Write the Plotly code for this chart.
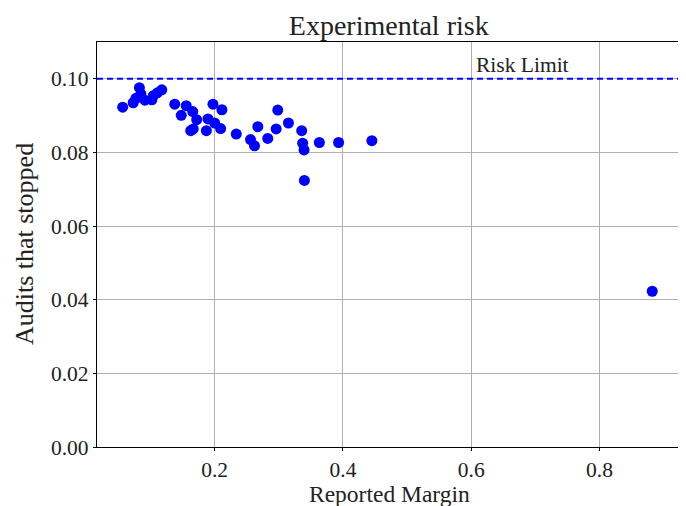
import plotly.graph_objects as go

margins = [0.0566, 0.0730, 0.0772, 0.0827, 0.0850, 0.0912, 0.1021, 0.1044, 0.1106, 0.1176,
           0.1378, 0.1557, 0.1479, 0.1658, 0.1720, 0.1627, 0.1666, 0.1974, 0.2113, 0.1896,
           0.2000, 0.1871, 0.2093, 0.2337, 0.2559, 0.2622, 0.2673, 0.2828, 0.2959, 0.2984,
           0.3150, 0.3357, 0.3372, 0.3394, 0.3399, 0.3632, 0.3932, 0.4451, 0.8822]
stopped = [0.0923, 0.0935, 0.0947, 0.0976, 0.0959, 0.0942, 0.0943, 0.0954, 0.0962, 0.0970,
           0.0931, 0.0927, 0.0901, 0.0911, 0.0889, 0.0859, 0.0864, 0.0931, 0.0916, 0.0891,
           0.0880, 0.0859, 0.0865, 0.0850, 0.0835, 0.0818, 0.0870, 0.0838, 0.0864, 0.0915,
           0.0880, 0.0859, 0.0825, 0.0807, 0.0724, 0.0827, 0.0827, 0.0832, 0.0423]
risk_limit = 0.1
x_ticks = [0.2, 0.4, 0.6, 0.8]
y_ticks = [0.00, 0.02, 0.04, 0.06, 0.08, 0.10]

font_family = "Liberation Serif, DejaVu Serif, serif"
text_color = "#222222"

fig = go.Figure()
fig.add_trace(go.Scatter(x=margins, y=stopped, mode="markers",
                         marker=dict(color="#0000ff", size=11, line=dict(width=0)),
                         showlegend=False))
fig.add_shape(type="line", xref="paper", yref="y", x0=0, x1=1, y0=risk_limit, y1=risk_limit,
              line=dict(color="#0000ff", width=2, dash="6px,4px"))
fig.add_annotation(x=0.605, y=risk_limit, xref="x", yref="y", text="Risk Limit",
                   showarrow=False, xanchor="left", yanchor="bottom", yshift=0,
                   font=dict(family=font_family, size=21.5, color=text_color))

# axis titles as annotations
fig.add_annotation(x=0.5, y=-0.117, xref="paper", yref="paper", text="Reported Margin",
                   showarrow=False, xanchor="center", yanchor="middle",
                   font=dict(family=font_family, size=23.5, color=text_color))
fig.add_annotation(x=-0.124, y=0.5, xref="paper", yref="paper", text="Audits that stopped",
                   showarrow=False, xanchor="center", yanchor="middle", textangle=-90,
                   font=dict(family=font_family, size=26, color=text_color))

axis_common = dict(showline=True, linecolor="black", linewidth=1.2, mirror=True,
                   ticks="outside", ticklen=3, tickcolor="black", automargin=False,
                   showgrid=True, gridcolor="#b0b0b0", gridwidth=1, zeroline=False,
                   tickfont=dict(family=font_family, size=21.5, color=text_color))

fig.update_xaxes(range=[0.0166, 0.927], tickvals=x_ticks, tickformat=".1f", **axis_common)
fig.update_yaxes(range=[0, 0.11], tickvals=y_ticks, tickformat=".2f", **axis_common)

# the page body adds an 8px offset, so margins are compensated
fig.update_layout(
    width=686, height=506,
    margin=dict(l=89, r=13, t=34, b=67),
    plot_bgcolor="white", paper_bgcolor="white",
    title=dict(text="Experimental risk", x=0.555, xanchor="center", y=0.966, yanchor="middle",
               font=dict(family=font_family, size=28, color=text_color)),
)

fig.write_html("out.html")
